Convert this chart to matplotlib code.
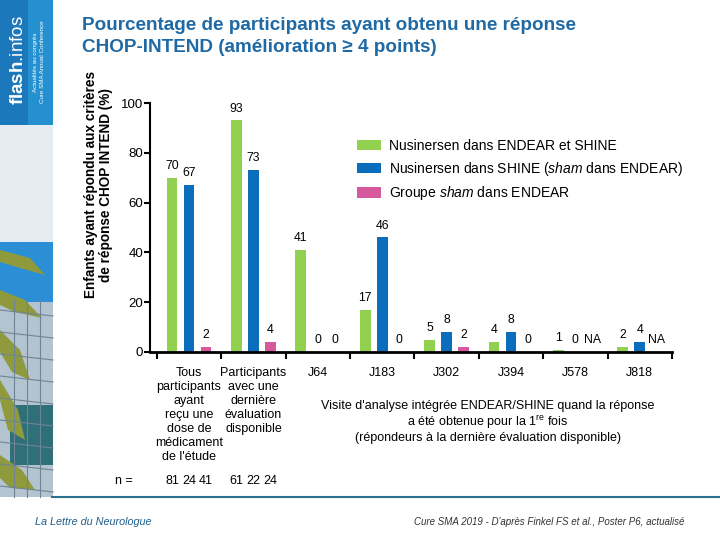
import matplotlib
matplotlib.use("Agg")
import matplotlib.pyplot as plt
import matplotlib.transforms as mtransforms
from matplotlib.patches import Rectangle, Polygon
import numpy as np

plt.rcParams['font.family'] = ['Liberation Sans', 'DejaVu Sans']
plt.rcParams['mathtext.fontset'] = 'custom'
plt.rcParams['mathtext.rm'] = 'Liberation Sans'
plt.rcParams['mathtext.it'] = 'Liberation Sans:italic'
plt.rcParams['mathtext.bf'] = 'Liberation Sans:bold'

# données
categories = ["Tous\nparticipants\nayant\nreçu une\ndose de\nmédicament\nde l'étude",
              "Participants\navec une\ndernière\névaluation\ndisponible",
              "J64", "J183", "J302", "J394", "J578", "J818"]
endear_shine = [70, 93, 41, 17, 5, 4, 1, 2]
shine_only = [67, 73, 0, 46, 8, 8, 0, 4]
sham_endear = [2, 4, 0, 0, 2, 0, None, None]   # None = NA
series_labels = ["Nusinersen dans ENDEAR et SHINE",
                 "Nusinersen dans SHINE ($\\mathit{sham}$ dans ENDEAR)",
                 "Groupe $\\mathit{sham}$ dans ENDEAR"]
series_colors = ["#92D050", "#0A6EBD", "#D6589D"]
n_values = [[81, 24, 41], [61, 22, 24]]

W, H = 720, 540
def fx(x): return x / W
def fy(y): return 1 - y / H

fig = plt.figure(figsize=(7.2, 5.4), dpi=100)

# bandeau gauche (visuel du congrès)
def rect(x0, y0, w, h, color, **kw):
    fig.patches.append(Rectangle((fx(x0), fy(y0 + h)), w / W, h / H, transform=fig.transFigure,
                                 facecolor=color, edgecolor="none", **kw))
rect(0, 0, 28, 125, "#1A78BB")
rect(28, 0, 25, 125, "#2590D0")
rect(0, 125, 53, 117, "#E6ECF1")
rect(0, 242, 53, 60, "#2B8FD6")
rect(0, 302, 53, 195, "#B3C3CF")
rect(10, 405, 43, 60, "#2F6F78")
for yy in range(310, 497, 22):
    fig.lines.append(plt.Line2D([fx(0), fx(53)], [fy(yy), fy(yy + 6)], transform=fig.transFigure,
                                color="#6E8495", lw=0.8))
for xx in range(14, 53, 13):
    fig.lines.append(plt.Line2D([fx(xx), fx(xx)], [fy(300), fy(497)], transform=fig.transFigure,
                                color="#6E8495", lw=0.8))
for pts in ([(0, 250), (30, 258), (45, 275), (20, 268), (0, 262)],
            [(0, 290), (25, 300), (42, 318), (15, 312), (0, 305)],
            [(0, 330), (20, 350), (30, 380), (12, 372), (0, 352)],
            [(0, 380), (18, 410), (25, 440), (8, 430), (0, 400)],
            [(0, 455), (22, 470), (35, 490), (10, 488), (0, 478)]):
    fig.patches.append(Polygon([(fx(a), fy(b)) for a, b in pts], closed=True, transform=fig.transFigure,
                               facecolor="#8F9A3C", edgecolor="none"))
fig.text(fx(19), fy(60), "$\\mathbf{flash}$.infos", rotation=90, color="white", fontsize=13.5,
         ha="center", va="center")
fig.text(fx(35), fy(62), "Actualités au congrès", rotation=90, color="white", fontsize=4.5,
         ha="center", va="center")
fig.text(fx(43), fy(62), "Cure SMA Annual Conference", rotation=90, color="white", fontsize=4.5,
         ha="center", va="center")
fig.lines.append(plt.Line2D([fx(52), fx(720)], [fy(497), fy(497)], transform=fig.transFigure,
                            color="#2E6E8E", lw=1.5))

# titre
fig.text(fx(82), fy(17), "Pourcentage de participants ayant obtenu une réponse\n"
         "CHOP-INTEND (amélioration ≥ 4 points)", ha="left", va="top", fontsize=13.6,
         fontweight="bold", color="#1F6AA5", linespacing=1.4)

ax = fig.add_axes([fx(150), fy(352), 522 / W, 249 / H])
x = np.arange(len(categories))
bw, off = 0.17, 0.264
bars = []
for k, (vals, col) in enumerate(zip([endear_shine, shine_only, sham_endear], series_colors)):
    xs = x + (k - 1) * off
    h = [np.nan if v is None else v for v in vals]
    bars.append(ax.bar(xs, h, width=bw, color=col, zorder=2))
    for xi, v in zip(xs, vals):
        ax.annotate("NA" if v is None else str(v), (xi, 0 if v is None else v), xytext=(0, 8.5),
                    textcoords="offset points", ha="center", va="center", fontsize=8.8)

ax.set_xlim(-0.606, 7.5)
ax.set_ylim(0, 100)
ax.set_yticks(range(0, 101, 20))
ax.tick_params(axis="y", length=4, width=1.5, labelsize=9.5, pad=1)
ax.set_xticks(np.arange(-0.5, 8, 1))
ax.set_xticklabels([])
ax.set_xticks(x, minor=True)
ax.set_xticklabels(categories, minor=True, fontsize=9, linespacing=1.22, va="top")
ax.tick_params(axis="x", which="major", length=5, width=1.5)
ax.tick_params(axis="x", which="minor", length=0, pad=11)
for s in ["top", "right"]:
    ax.spines[s].set_visible(False)
ax.spines["left"].set_linewidth(1.5)
ax.spines["bottom"].set_linewidth(2)
ax.set_ylabel("Enfants ayant répondu aux critères\nde réponse CHOP INTEND (%)", fontsize=9.8,
              fontweight="bold", linespacing=1.05)
ax.yaxis.set_label_coords(fx(113), fy(185), transform=fig.transFigure)

ax.legend(handles=bars, labels=series_labels, loc="upper left", bbox_to_anchor=(fx(357), fy(139)),
          bbox_transform=fig.transFigure, frameon=False, fontsize=10, handlelength=1.75,
          handleheight=0.8, handletextpad=0.55, labelspacing=0.48, borderpad=0, borderaxespad=0)

fig.text(fx(488), fy(422), "Visite d'analyse intégrée ENDEAR/SHINE quand la réponse\n"
         "a été obtenue pour la 1$^{\\mathrm{re}}$ fois\n(répondeurs à la dernière évaluation disponible)",
         ha="center", va="center", fontsize=9, linespacing=1.15)

# effectifs
trans = mtransforms.blended_transform_factory(ax.transData, fig.transFigure)
fig.text(fx(124), fy(481), "n =", ha="center", va="center", fontsize=9)
for g, ns in enumerate(n_values):
    for k, n in enumerate(ns):
        ax.text(x[g] + (k - 1) * off, fy(481), str(n), transform=trans, ha="center", va="center",
                fontsize=9)

fig.text(fx(35), fy(522), "La Lettre du Neurologue", ha="left", va="center", fontsize=7.8,
         style="italic", color="#1F5F8F")
fig.text(fx(684), fy(522), "Cure SMA 2019 - D'après Finkel FS et al., Poster P6, actualisé",
         ha="right", va="center", fontsize=7, style="italic", color="#333333")

fig.savefig("out.png", dpi=100, facecolor="white")
